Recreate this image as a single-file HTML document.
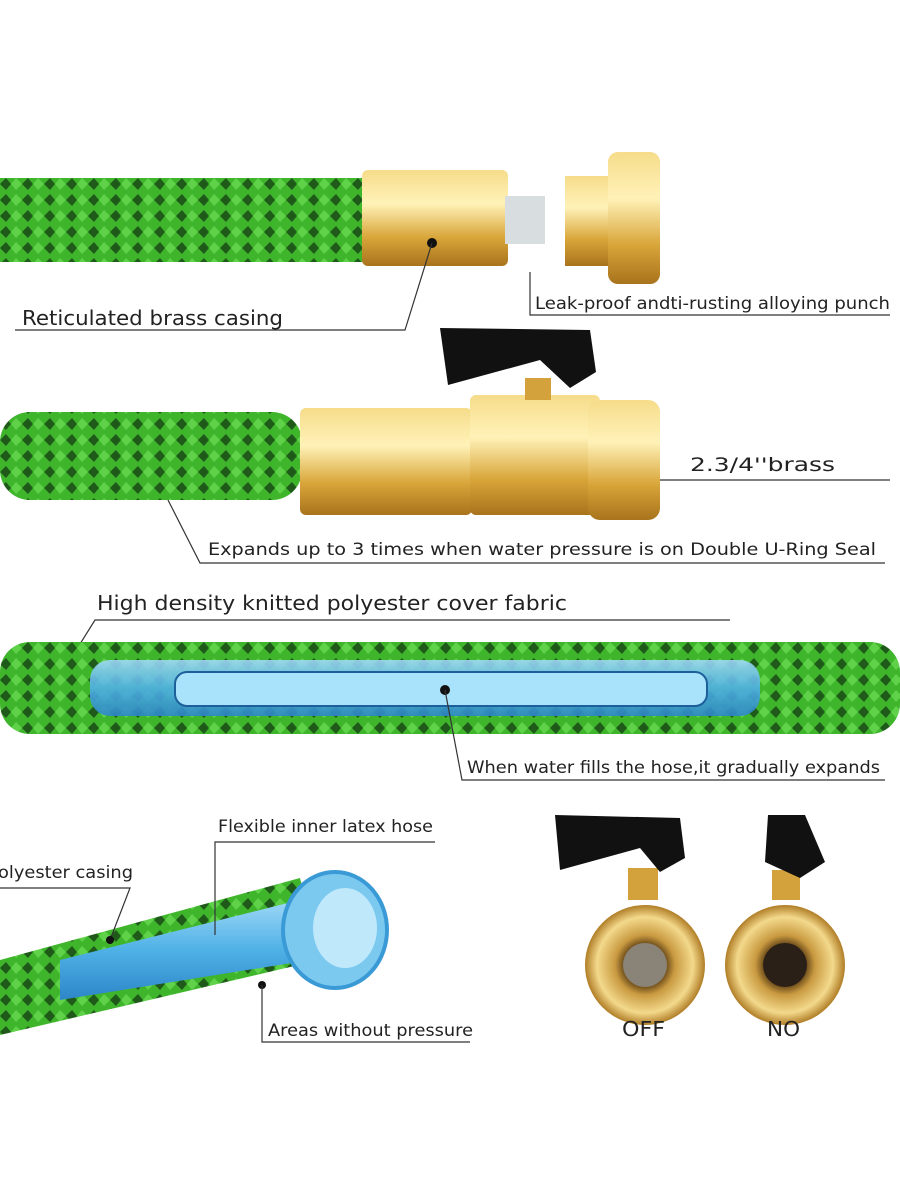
<!DOCTYPE html>
<html><head><meta charset="utf-8"><style>
html,body{margin:0;padding:0;background:#fff}
svg{display:block}
text{font-family:"DejaVu Sans","Liberation Sans",sans-serif;fill:#222}
</style></head><body>
<svg width="900" height="1200" viewBox="0 0 900 1200" xmlns="http://www.w3.org/2000/svg">
<defs>
<pattern id="knit" width="22" height="16" patternUnits="userSpaceOnUse">
<rect width="22" height="16" fill="#3fb52b"/>
<path d="M0 8 L6 2 L11 8 L6 14Z" fill="#1f5a1a"/>
<path d="M11 8 L16 2 L22 8 L16 14Z" fill="#5fd24a"/>
</pattern>
<linearGradient id="brass" x1="0" y1="0" x2="0" y2="1">
<stop offset="0" stop-color="#f6dc8a"/><stop offset=".35" stop-color="#fff2b8"/><stop offset=".7" stop-color="#d9a63a"/><stop offset="1" stop-color="#a8731c"/>
</linearGradient>
<linearGradient id="blue" x1="0" y1="0" x2="0" y2="1">
<stop offset="0" stop-color="#9fd8f6"/><stop offset=".5" stop-color="#4fb1e6"/><stop offset="1" stop-color="#2d86c8"/>
</linearGradient>
<radialGradient id="ring"><stop offset=".35" stop-color="#6a4a1a"/><stop offset=".5" stop-color="#c99a40"/><stop offset=".8" stop-color="#f3d98c"/><stop offset="1" stop-color="#b07d26"/></radialGradient>
</defs>

<!-- Hose 1 -->
<rect x="0" y="178" width="368" height="84" fill="url(#knit)"/>
<rect x="362" y="170" width="146" height="96" rx="6" fill="url(#brass)"/>
<rect x="505" y="196" width="40" height="48" fill="#d8dde0"/>
<rect x="565" y="176" width="50" height="90" fill="url(#brass)"/>
<rect x="608" y="152" width="52" height="132" rx="10" fill="url(#brass)"/>
<circle cx="432" cy="243" r="5" fill="#111"/>
<polyline points="15,330 405,330 432,243" fill="none" stroke="#333" stroke-width="1.2"/>
<text x="22" y="325" font-size="20" textLength="261" lengthAdjust="spacingAndGlyphs">Reticulated brass casing</text>
<polyline points="530,272 530,315 890,315" fill="none" stroke="#333" stroke-width="1.2"/>
<text x="535" y="309" font-size="17" textLength="355" lengthAdjust="spacingAndGlyphs">Leak-proof andti-rusting alloying punch</text>

<!-- Hose 2 -->
<rect x="0" y="412" width="302" height="88" rx="30" fill="url(#knit)"/>
<rect x="300" y="408" width="172" height="107" rx="6" fill="url(#brass)"/>
<rect x="470" y="395" width="130" height="120" rx="6" fill="url(#brass)"/>
<rect x="588" y="400" width="72" height="120" rx="12" fill="url(#brass)"/>
<rect x="525" y="378" width="26" height="22" fill="#d4a23c"/>
<path d="M440 328 L590 330 L596 372 L570 388 L540 360 L448 385 Z" fill="#111"/>
<line x1="660" y1="480" x2="890" y2="480" stroke="#333" stroke-width="1.2"/>
<text x="690" y="471" font-size="19" textLength="145" lengthAdjust="spacingAndGlyphs">2.3/4''brass</text>
<polyline points="168,500 200,563 885,563" fill="none" stroke="#333" stroke-width="1.2"/>
<text x="208" y="555" font-size="17" textLength="668" lengthAdjust="spacingAndGlyphs">Expands up to 3 times when water pressure is on Double U-Ring Seal</text>

<!-- Hose 3 -->
<polyline points="70,660 95,620 730,620" fill="none" stroke="#333" stroke-width="1.2"/>
<text x="97" y="610" font-size="20" textLength="470" lengthAdjust="spacingAndGlyphs">High density knitted polyester cover fabric</text>
<rect x="0" y="642" width="900" height="92" rx="30" fill="url(#knit)"/>
<rect x="90" y="660" width="670" height="56" rx="20" fill="url(#blue)" opacity=".9"/>
<rect x="175" y="672" width="532" height="34" rx="12" fill="#a8e2fb" stroke="#1d5f9a" stroke-width="2"/>
<circle cx="445" cy="690" r="5" fill="#111"/>
<polyline points="445,690 462,780 885,780" fill="none" stroke="#333" stroke-width="1.2"/>
<text x="467" y="773" font-size="17" textLength="413" lengthAdjust="spacingAndGlyphs">When water fills the hose,it gradually expands</text>

<!-- Bottom left -->
<polygon points="0,960 300,878 320,960 0,1035" fill="url(#knit)"/>
<polygon points="60,960 300,900 310,960 60,1000" fill="url(#blue)"/>
<ellipse cx="335" cy="930" rx="52" ry="58" fill="#7cc9f0" stroke="#3a9ad6" stroke-width="4"/>
<ellipse cx="345" cy="928" rx="32" ry="40" fill="#bfe9fb"/>
<polyline points="215,935 215,842 435,842" fill="none" stroke="#333" stroke-width="1.2"/>
<text x="218" y="832" font-size="17" textLength="215" lengthAdjust="spacingAndGlyphs">Flexible inner latex hose</text>
<polyline points="0,888 130,888 110,940" fill="none" stroke="#333" stroke-width="1.2"/>
<text x="-2" y="878" font-size="17" textLength="135" lengthAdjust="spacingAndGlyphs">olyester casing</text>
<circle cx="110" cy="940" r="4" fill="#111"/>
<circle cx="262" cy="985" r="4" fill="#111"/>
<polyline points="262,985 262,1042 470,1042" fill="none" stroke="#333" stroke-width="1.2"/>
<text x="268" y="1036" font-size="17" textLength="205" lengthAdjust="spacingAndGlyphs">Areas without pressure</text>

<!-- Valves -->
<rect x="628" y="868" width="30" height="32" fill="#d4a23c"/>
<path d="M555 815 L680 818 L685 858 L660 872 L640 848 L560 870 Z" fill="#111"/>
<circle cx="645" cy="965" r="60" fill="url(#ring)"/>
<circle cx="645" cy="965" r="22" fill="#8a8478"/>
<rect x="772" y="870" width="28" height="30" fill="#d4a23c"/>
<path d="M768 815 L805 815 L825 862 L800 878 L765 862 Z" fill="#111"/>
<circle cx="785" cy="965" r="60" fill="url(#ring)"/>
<circle cx="785" cy="965" r="22" fill="#2a2018"/>
<text x="622" y="1036" font-size="20" textLength="43" lengthAdjust="spacingAndGlyphs">OFF</text>
<text x="767" y="1036" font-size="20" textLength="33" lengthAdjust="spacingAndGlyphs">NO</text>
</svg>
</body></html>
